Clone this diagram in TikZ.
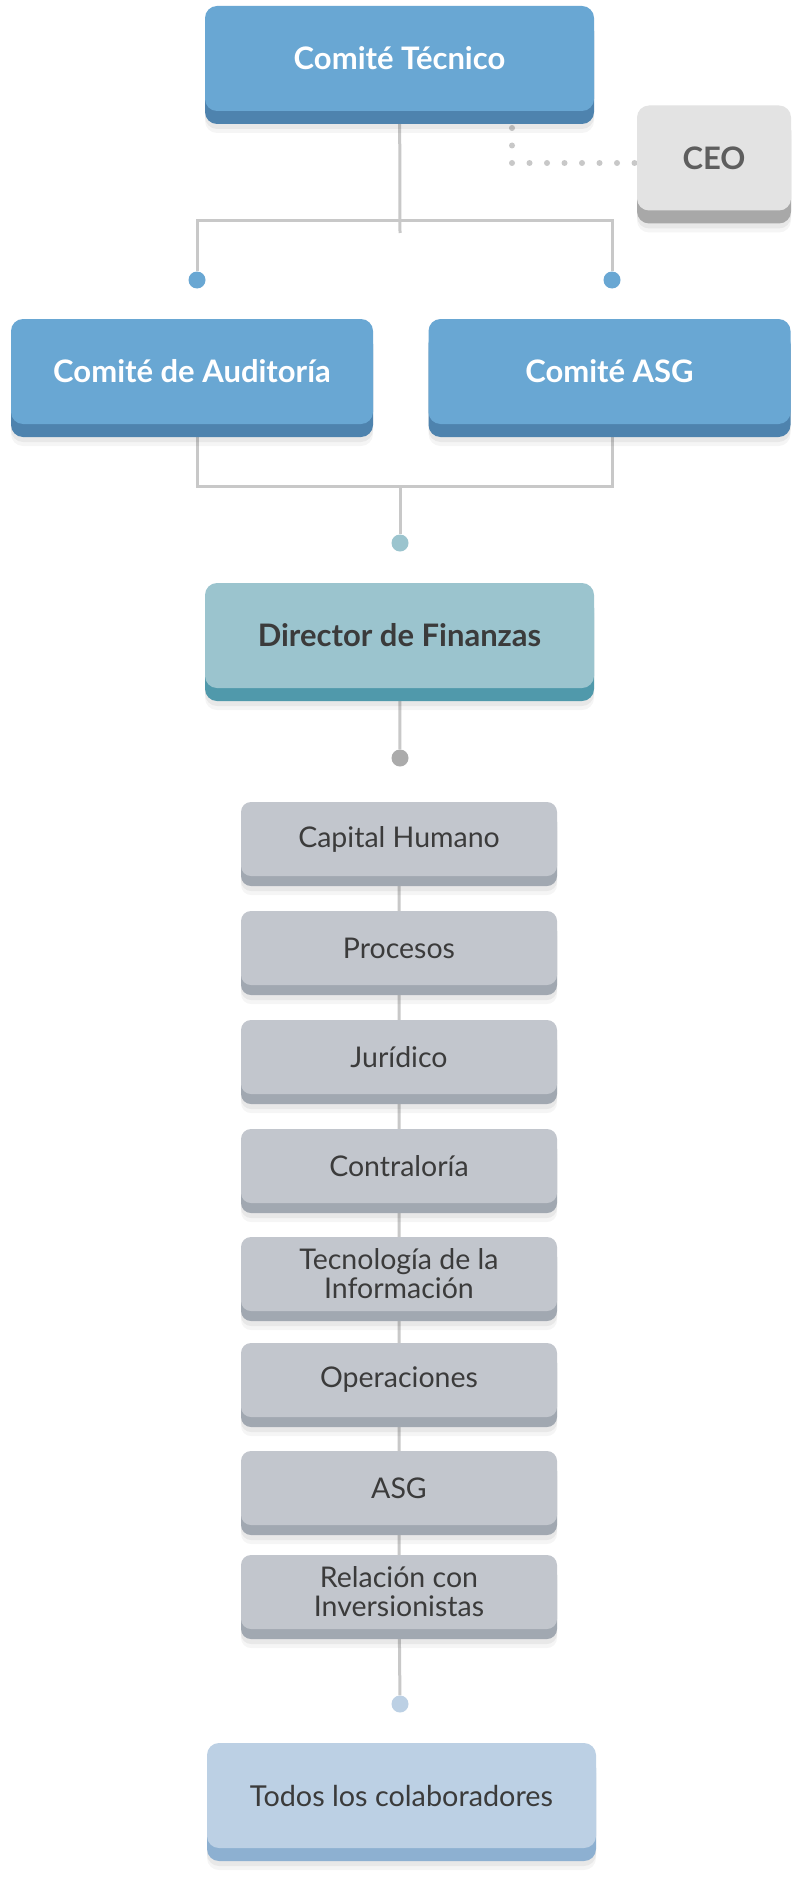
\documentclass[tikz,border=0pt]{standalone}
\usepackage{fontspec}
\setmainfont{Lato}
\usetikzlibrary{calc}
\usetikzlibrary{backgrounds}

\definecolor{tecblue}{HTML}{69A7D3}
\definecolor{tecband}{HTML}{4E83AE}
\definecolor{ceogray}{HTML}{E3E3E3}
\definecolor{ceoband}{HTML}{A8A8A8}
\definecolor{ceotext}{HTML}{5E5E5E}
\definecolor{dirteal}{HTML}{9BC4CE}
\definecolor{dirband}{HTML}{5099AB}
\definecolor{areagray}{HTML}{C2C6CD}
\definecolor{areaband}{HTML}{A1A8B1}
\definecolor{allblue}{HTML}{BCD0E4}
\definecolor{allband}{HTML}{8DB0D1}
\definecolor{linegray}{HTML}{C8C8C8}
\definecolor{dotgray}{HTML}{ABABAB}
\definecolor{darktext}{HTML}{3B3B3B}

\tikzset{
    plate/.style n args={3}{rounded corners=12pt, inner sep=0pt, align=center, fill=#1,
        preaction={fill=black, opacity=0.04, transform canvas={yshift=-#3-9pt}},
        preaction={fill=black, opacity=0.05, transform canvas={yshift=-#3-5pt}},
        preaction={fill=#2, transform canvas={yshift=-#3}}},
    bigbox/.style 2 args={plate={#1}{#2}{13pt}, minimum width=389pt, minimum height=105pt,
        font=\fontsize{31}{36}\selectfont\bfseries},
    areabox/.style={plate={areagray}{areaband}{10pt}, rounded corners=10pt,
        minimum width=316pt, minimum height=74pt, text=darktext,
        font=\fontsize{28.5}{29}\selectfont},
    bullet/.style={circle, fill=#1, inner sep=0pt, minimum size=17pt},
    conn/.style={draw=linegray, line width=3pt},
    ceolink/.style={draw=linegray, line width=6pt, line cap=round, dash pattern=on 0pt off 17.5pt}
}

\begin{document}
\begin{tikzpicture}[x=1pt,y=-1pt]
            \useasboundingbox (0,0) rectangle (800,1878);

            \node[bigbox={tecblue}{tecband}, text=white] (tec) at (399.5,58.5) {Comité Técnico};
            \node[bigbox={ceogray}{ceoband}, text=ceotext, minimum width=154pt] (ceo) at (714,158) {CEO};
            \node[bigbox={tecblue}{tecband}, text=white, minimum width=362pt] (aud) at (192,371.5) {Comité de Auditoría};
            \node[bigbox={tecblue}{tecband}, text=white, minimum width=362pt] (asg) at (609.5,371.5) {Comité ASG};
            \node[bigbox={dirteal}{dirband}, text=darktext] (dir) at (399.5,635.5) {Director de Finanzas};

            \foreach \y/\name/\txt in {839/ch/Capital Humano, 948/pr/Procesos, 1057/ju/Jurídico,
                    1166/co/Contraloría, 1274/ti/Tecnología de la\\Información, 1380/op/Operaciones,
                    1488/as/ASG, 1592/ri/Relación con\\Inversionistas}
                \node[areabox] (\name) at (399,\y) {\txt};

            \node[bigbox={allblue}{allband}, text=darktext, font=\fontsize{28.8}{32}\selectfont] (todos) at (401.5,1795.5) {Todos los colaboradores};

            \node[bullet=tecblue] (da) at (197,280) {};
            \node[bullet=tecblue] (db) at (612,280) {};
            \node[bullet=dirteal] (dc) at (400,543) {};
            \node[bullet=dotgray] (dd) at (400,758) {};
            \node[bullet=allblue] (de) at (400,1704) {};

            \coordinate (jtop) at (400,221);
            \coordinate (jstub) at (400,233);
            \coordinate (jlow) at (400,486);
            \coordinate (ceoA) at (512,128);

            \begin{scope}[on background layer]
                \fill[white] (0,0) rectangle (800,1878);
                \draw[conn] (tec) -- (jstub);
                \draw[conn] (da) |- (jtop) -| (db);
                \draw[conn] (aud.south -| da) |- (jlow) -| (asg.south -| db);
                \draw[conn] (jlow) -- (dc);
                \draw[conn] (dir) -- (dd);
                \draw[conn] (ch) -- (pr) -- (ju) -- (co) -- (ti) -- (op) -- (as) -- (ri) -- (de);
                \draw[ceolink] (ceoA) |- ([yshift=-5pt]ceo.west);
            \end{scope}
        \end{tikzpicture}
\end{document}
